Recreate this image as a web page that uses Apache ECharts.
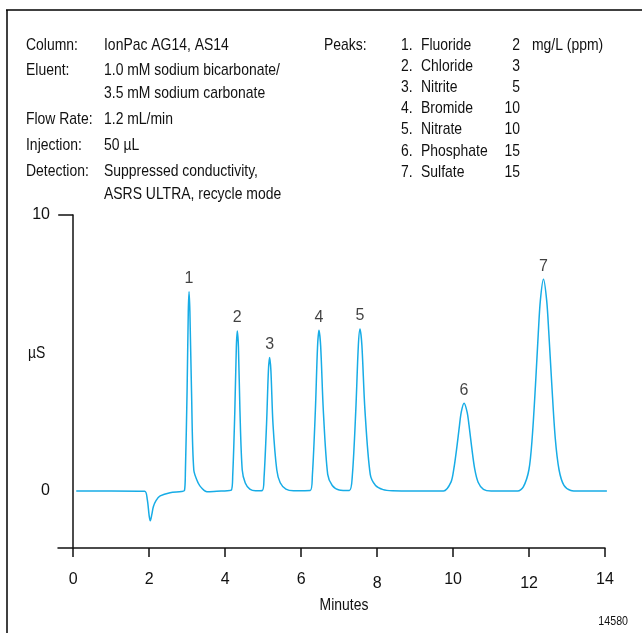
<!DOCTYPE html>
<html>
<head>
<meta charset="utf-8">
<script src="https://cdn.jsdelivr.net/npm/echarts@6/dist/echarts.min.js"></script>
<style>html,body{margin:0;padding:0;background:#fff}#c{width:642px;height:633px}</style>
</head>
<body>
<div id="c"></div>
<script>
// ---- data ----
const traceTime = [
  0.08, 1.00, 1.88, 1.95, 2.00, 2.03, 2.07, 2.11, 2.18, 2.29, 2.55, 2.85,
  2.93, 2.954, 2.998, 3.030, 3.05, 3.072, 3.115, 3.175, 3.29, 3.40, 3.52, 3.70, 3.90,
  4.16, 4.20, 4.255, 4.295, 4.32, 4.35, 4.39, 4.45, 4.53, 4.65, 4.80,
  4.98, 5.024, 5.09, 5.139, 5.17, 5.205, 5.26, 5.36, 5.45, 5.60, 5.80,
  6.24, 6.297, 6.375, 6.433, 6.47, 6.515, 6.585, 6.70, 6.82, 7.00,
  7.27, 7.35, 7.44, 7.507, 7.55, 7.60, 7.68, 7.82, 7.96, 8.16, 8.40, 9.00,
  9.75, 9.945, 10.02, 10.10, 10.17, 10.216, 10.29, 10.37, 10.42, 10.49, 10.57, 10.66, 10.80, 11.00,
  11.70, 11.85, 11.997, 12.083, 12.17, 12.245, 12.298, 12.38, 12.465, 12.52, 12.60, 12.69, 12.79, 12.92, 13.10, 13.30, 14.05
];
const traceSignal = [
  0, 0, -0.01, -0.30, -0.90, -1.08, -0.85, -0.57, -0.35, -0.18, -0.06, -0.02,
  0.02, 0.72, 3.61, 6.50, 7.22, 6.50, 3.61, 0.76, 0.29, 0.08, -0.03, -0.02, 0,
  0.03, 0.58, 2.90, 5.22, 5.80, 5.22, 2.90, 0.76, 0.29, 0.07, 0.01,
  0.02, 0.48, 2.42, 4.36, 4.84, 4.36, 2.42, 0.76, 0.30, 0.07, 0.01,
  0.02, 0.58, 2.91, 5.24, 5.82, 5.24, 2.91, 0.60, 0.20, 0.04,
  0.02, 0.59, 2.94, 5.28, 5.87, 5.28, 2.94, 0.60, 0.20, 0.05, 0.01, 0,
  0, 0.32, 0.80, 1.59, 2.39, 2.86, 3.18, 2.86, 2.39, 1.59, 0.80, 0.32, 0.06, 0,
  0, 0.15, 0.77, 1.92, 3.84, 5.75, 6.90, 7.67, 6.90, 5.75, 3.84, 1.92, 0.77, 0.20, 0.02, 0, 0
];
const peakNumbers = ['1', '2', '3', '4', '5', '6', '7'];
const peakTimes = [3.05, 4.32, 5.17, 6.47, 7.55, 10.29, 12.38];
const peakHeights = [7.22, 5.80, 4.84, 5.82, 5.87, 3.18, 7.67];
const peakNames = ['Fluoride', 'Chloride', 'Nitrite', 'Bromide', 'Nitrate', 'Phosphate', 'Sulfate'];
const peakConc = ['2', '3', '5', '10', '10', '15', '15'];
const xTickValues = [0, 2, 4, 6, 8, 10, 12, 14];
const yLabelValues = [0, 10];
const yTickValues = [10];
const condLabels = ['Column:', 'Eluent:', 'Flow Rate:', 'Injection:', 'Detection:'];
const condValues = [
  ['IonPac AG14, AS14'],
  ['1.0 mM sodium bicarbonate/', '3.5 mM sodium carbonate'],
  ['1.2 mL/min'],
  ['50 µL'],
  ['Suppressed conductivity,', 'ASRS ULTRA, recycle mode']
];

// ---- chart ----
const FONT = '"Liberation Sans", Arial, sans-serif';
const TXT = '#111';
const NARROW = 0.82;
const chart = echarts.init(document.getElementById('c'), null, {renderer: 'canvas'});

function txt(text, x, y, size, align) {
  return {
    type: 'text', silent: true, x: x, y: y, scaleX: NARROW, scaleY: 1,
    style: {
      text: text, x: 0, y: 0, fill: TXT, fontSize: size, fontFamily: FONT,
      align: align || 'left', textAlign: align || 'left',
      verticalAlign: 'middle', textVerticalAlign: 'middle'
    }
  };
}

const graphics = [
  {type: 'line', silent: true, shape: {x1: 7, y1: 10, x2: 7, y2: 640}, style: {stroke: '#000', lineWidth: 1.5}},
  {type: 'line', silent: true, shape: {x1: 6, y1: 10, x2: 650, y2: 10}, style: {stroke: '#000', lineWidth: 1.5}}
];
const condRowY = [45, 70, 119, 145, 171];
condLabels.forEach((l, i) => {
  graphics.push(txt(l, 26, condRowY[i], 17));
  condValues[i].forEach((v, j) => graphics.push(txt(v, 104, condRowY[i] + j * 23, 17)));
});
graphics.push(txt('Peaks:', 324, 45, 17));
peakNames.forEach((n, i) => {
  const y = 45 + i * 21.2;
  graphics.push(txt((i + 1) + '.', 401, y, 17));
  graphics.push(txt(n, 421, y, 17));
  graphics.push(txt(peakConc[i], 520, y, 17, 'right'));
});
graphics.push(txt('mg/L (ppm)', 532, 45, 17));
graphics.push(txt('µS', 28, 353, 17));
graphics.push(txt('Minutes', 344, 605, 17, 'center'));
graphics.push(txt('14580', 628, 621, 13, 'right'));

chart.setOption({
  animation: false,
  backgroundColor: '#fff',
  grid: {left: 58, right: 37, top: 215, bottom: 85, containLabel: false},
  xAxis: {
    type: 'value', min: -0.4, max: 14,
    axisLine: {onZero: false, lineStyle: {color: '#111', width: 1.5}},
    axisTick: {show: true, length: 9, customValues: xTickValues, lineStyle: {color: '#111', width: 1.5}},
    axisLabel: {
      customValues: xTickValues, margin: 24, color: TXT, fontSize: 16, fontFamily: FONT,
      formatter: v => (v === 8 || v === 12) ? '{lo|' + v + '}' : '{n|' + v + '}',
      rich: {n: {fontSize: 16, fontFamily: FONT, color: TXT}, lo: {fontSize: 16, fontFamily: FONT, color: TXT, padding: [4, 0, 0, 0]}}
    },
    splitLine: {show: false}
  },
  yAxis: {
    type: 'value', min: -2.065, max: 10,
    axisLine: {show: true, onZero: true, lineStyle: {color: '#111', width: 1.5}},
    axisTick: {show: true, length: 15, customValues: yTickValues, lineStyle: {color: '#111', width: 1.5}},
    axisLabel: {customValues: yLabelValues, margin: 8, color: TXT, fontSize: 16, fontFamily: FONT},
    splitLine: {show: false}
  },
  graphic: graphics,
  series: [
    {
      type: 'line', silent: true, showSymbol: false, symbol: 'none',
      smooth: 0.3,
      lineStyle: {color: '#17ace6', width: 1.5},
      data: traceTime.map((t, i) => [t, traceSignal[i]])
    },
    {
      type: 'scatter', silent: true, symbolSize: 0,
      label: {show: true, position: 'top', distance: 5, formatter: p => peakNumbers[p.dataIndex], color: TXT, fontSize: 16, fontFamily: FONT},
      data: peakTimes.map((t, i) => [t, peakHeights[i]])
    }
  ]
});
</script>
</body>
</html>
